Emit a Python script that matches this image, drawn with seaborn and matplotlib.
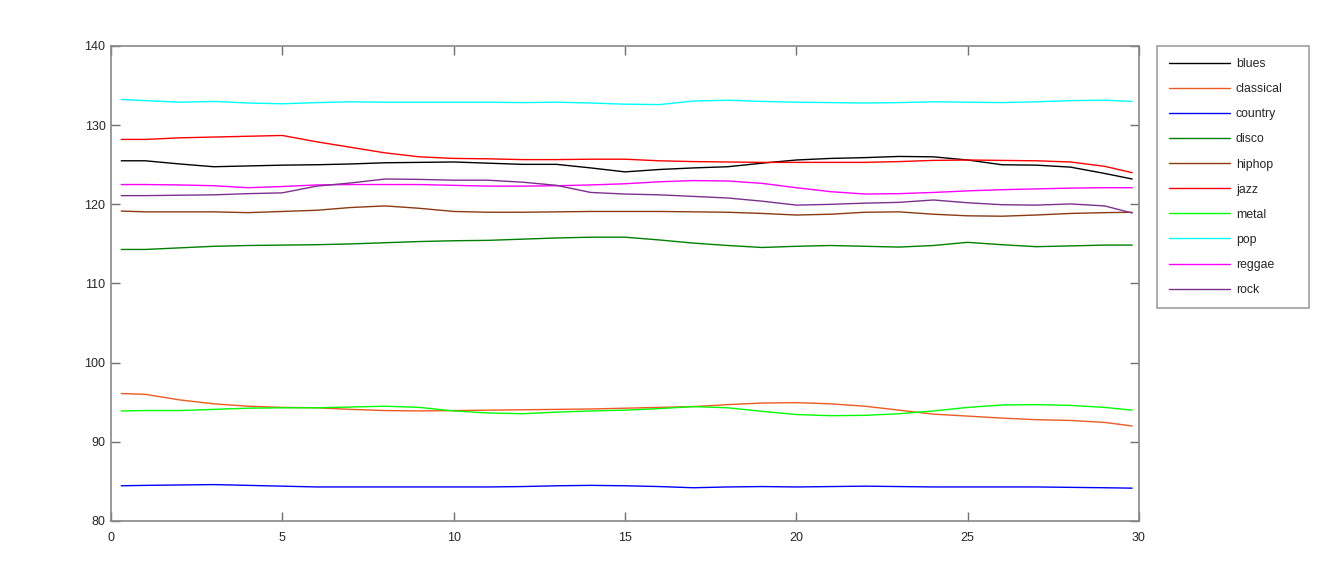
import numpy as np
import pandas as pd
import matplotlib
matplotlib.use("Agg")
import matplotlib.pyplot as plt
import seaborn as sns

# ---- data ----
time = [0.3, 1, 2, 3, 4, 5, 6, 7, 8, 9, 10, 11, 12, 13, 14, 15, 16, 17, 18, 19,
        20, 21, 22, 23, 24, 25, 26, 27, 28, 29, 29.8]

genres = ["blues", "classical", "country", "disco", "hiphop", "jazz",
          "metal", "pop", "reggae", "rock"]

blues = [125.5, 125.5, 125.1, 124.75, 124.85, 124.95, 125.0, 125.1, 125.25, 125.3,
         125.35, 125.2, 125.05, 125.05, 124.6, 124.1, 124.4, 124.6, 124.75, 125.2,
         125.6, 125.8, 125.9, 126.05, 126.0, 125.6, 125.0, 124.95, 124.7, 123.9, 123.2]
classical = [96.1, 96.0, 95.3, 94.8, 94.5, 94.35, 94.3, 94.1, 93.95, 93.9,
             93.95, 94.0, 94.05, 94.1, 94.15, 94.25, 94.35, 94.45, 94.7, 94.9,
             94.95, 94.8, 94.5, 94.0, 93.5, 93.25, 93.0, 92.8, 92.7, 92.45, 92.0]
country = [84.45, 84.5, 84.55, 84.6, 84.5, 84.4, 84.3, 84.3, 84.3, 84.3,
           84.3, 84.3, 84.35, 84.45, 84.5, 84.45, 84.35, 84.2, 84.3, 84.35,
           84.3, 84.35, 84.4, 84.35, 84.3, 84.3, 84.3, 84.3, 84.25, 84.2, 84.15]
disco = [114.3, 114.3, 114.5, 114.7, 114.8, 114.85, 114.9, 115.0, 115.15, 115.3,
         115.4, 115.45, 115.6, 115.75, 115.85, 115.85, 115.5, 115.1, 114.8, 114.55,
         114.7, 114.8, 114.7, 114.6, 114.8, 115.2, 114.9, 114.65, 114.75, 114.85, 114.85]
hiphop = [119.15, 119.05, 119.05, 119.05, 118.95, 119.1, 119.25, 119.6, 119.8, 119.5,
          119.1, 119.0, 119.0, 119.05, 119.1, 119.1, 119.1, 119.05, 119.0, 118.85,
          118.65, 118.75, 119.0, 119.05, 118.75, 118.55, 118.5, 118.65, 118.85, 118.95, 119.0]
jazz = [128.2, 128.2, 128.4, 128.5, 128.6, 128.7, 127.9, 127.2, 126.5, 126.0,
        125.8, 125.75, 125.65, 125.65, 125.7, 125.7, 125.5, 125.4, 125.35, 125.3,
        125.3, 125.3, 125.3, 125.4, 125.55, 125.6, 125.55, 125.5, 125.35, 124.8, 124.0]
metal = [93.9, 93.95, 93.95, 94.1, 94.25, 94.3, 94.3, 94.4, 94.5, 94.35,
         93.9, 93.65, 93.55, 93.75, 93.9, 94.0, 94.2, 94.45, 94.3, 93.85,
         93.45, 93.3, 93.35, 93.55, 93.9, 94.35, 94.65, 94.7, 94.6, 94.35, 94.0]
pop = [133.25, 133.1, 132.9, 133.0, 132.8, 132.7, 132.85, 132.95, 132.9, 132.9,
       132.9, 132.9, 132.85, 132.9, 132.8, 132.65, 132.6, 133.05, 133.15, 133.0,
       132.9, 132.85, 132.8, 132.85, 132.95, 132.9, 132.85, 132.95, 133.1, 133.15, 133.0]
reggae = [122.5, 122.5, 122.45, 122.35, 122.1, 122.25, 122.45, 122.5, 122.5, 122.5,
          122.4, 122.3, 122.3, 122.35, 122.45, 122.6, 122.85, 123.0, 122.95, 122.65,
          122.1, 121.6, 121.3, 121.35, 121.5, 121.7, 121.85, 121.95, 122.05, 122.1, 122.1]
rock = [121.1, 121.1, 121.15, 121.2, 121.35, 121.45, 122.3, 122.7, 123.2, 123.15,
        123.05, 123.05, 122.8, 122.4, 121.5, 121.3, 121.2, 121.0, 120.8, 120.4,
        119.9, 120.0, 120.15, 120.25, 120.55, 120.2, 119.95, 119.9, 120.05, 119.8, 118.9]

series = [blues, classical, country, disco, hiphop, jazz, metal, pop, reggae, rock]

colors = ["#000000", "#EE5A24", "#0000FF", "#008000", "#8B3A12", "#FF0000",
          "#00FF00", "#00FFFF", "#FF00FF", "#7E2F8E"]

df = pd.concat([pd.DataFrame({"time": time, "value": s, "genre": g})
                for g, s in zip(genres, series)], ignore_index=True)

# ---- plot ----
sns.set_style("white")
plt.rcParams["font.family"] = ["Liberation Sans", "DejaVu Sans"]

W, H = 1326, 583
fig = plt.figure(figsize=(W / 100, H / 100), dpi=100)
ax = fig.add_axes([111 / W, 1 - 521 / H, (1139 - 111) / W, (521 - 46) / H])

sns.lineplot(data=df, x="time", y="value", hue="genre", hue_order=genres,
             palette=dict(zip(genres, colors)), linewidth=1.0, ax=ax, legend=True)

ax.set_xlim(0, 30)
ax.set_ylim(80, 140)
ax.set_xticks([0, 5, 10, 15, 20, 25, 30])
ax.set_yticks([80, 90, 100, 110, 120, 130, 140])
ax.set_xlabel("")
ax.set_ylabel("")
for sp in ax.spines.values():
    sp.set_visible(True)
    sp.set_color("#888888")
    sp.set_linewidth(1.2)
ax.tick_params(axis="both", which="both", direction="in", length=6.5, width=1.0,
               color="#707070", labelsize=9, labelcolor="#262626",
               top=True, right=True, bottom=True, left=True)
ax.tick_params(axis="x", pad=8)
ax.tick_params(axis="y", pad=4)

handles, labels = ax.get_legend_handles_labels()
leg = ax.legend(handles, labels, loc="upper left",
                bbox_to_anchor=(1157 / W, 1 - 305 / H, (1309 - 1157) / W, (305 - 46) / H),
                bbox_transform=fig.transFigure, mode="expand",
                fontsize=8.8, frameon=True, fancybox=False,
                handlelength=5.0, handletextpad=0.45, labelspacing=1.07,
                borderpad=1.0, borderaxespad=0.0)
leg.get_frame().set_edgecolor("#888888")
leg.get_frame().set_linewidth(1.2)
for t in leg.get_texts():
    t.set_color("#262626")

fig.savefig("out.png", dpi=100, facecolor="white")
